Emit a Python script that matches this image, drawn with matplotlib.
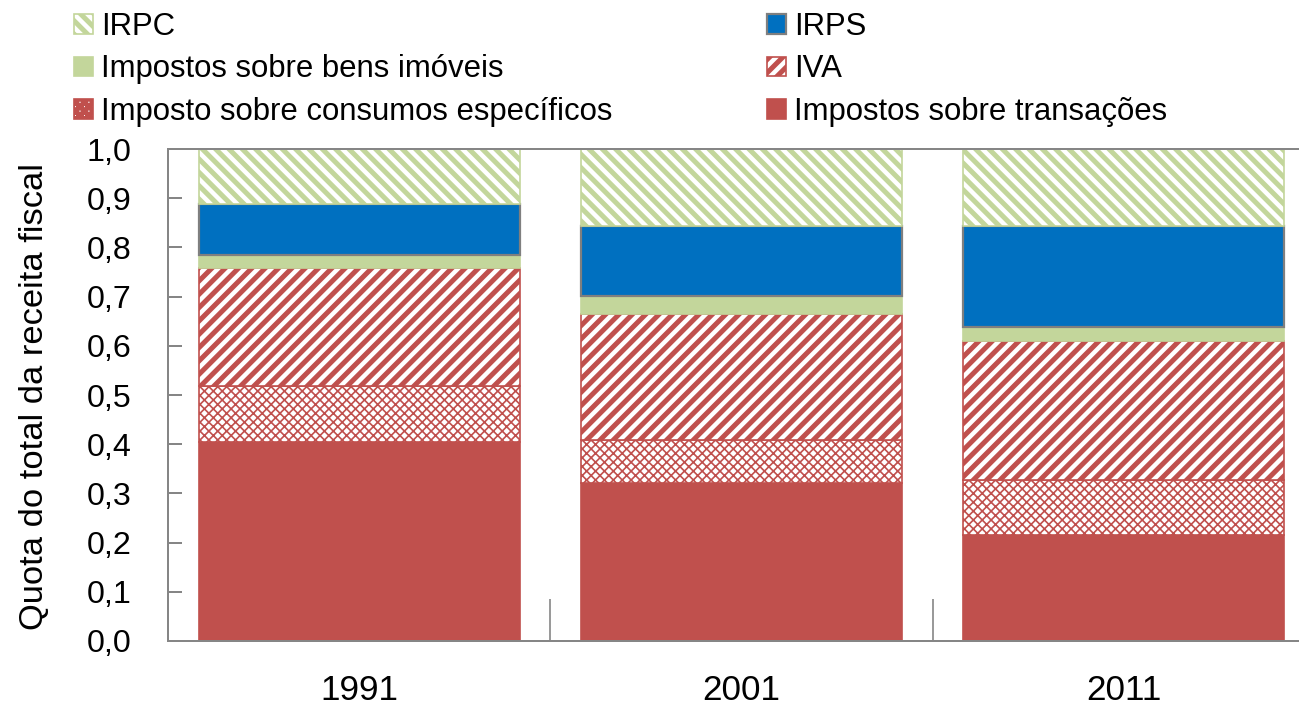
import numpy as np
import matplotlib
matplotlib.use("Agg")
import matplotlib.pyplot as plt
from matplotlib.ticker import FixedLocator, FuncFormatter

plt.rcParams['font.family'] = ['Liberation Sans Narrow', 'Liberation Sans', 'DejaVu Sans']
plt.rcParams['hatch.linewidth'] = 4.5

# --- data (share of total tax revenue) ---
years = ['1991', '2001', '2011']
transacoes = [0.404, 0.322, 0.216]
consumos = [0.114, 0.086, 0.111]
iva = [0.241, 0.257, 0.283]
bens_imoveis = [0.025, 0.037, 0.029]
irps = [0.104, 0.141, 0.204]
irpc = [0.112, 0.157, 0.157]

RED = '#c0504d'
GREEN = '#c3d69b'
BLUE = '#0070c0'
GRAY = '#868686'

DPI = 80
fig = plt.figure(figsize=(1299 / DPI, 713 / DPI), dpi=DPI)
ax = fig.add_axes([0.1293, 0.101, 0.883, 0.690])

x = np.arange(len(years))
w = 0.84

series = [
    ('Impostos sobre transações', transacoes, dict(color=RED, edgecolor=RED, linewidth=1.5)),
    ('Imposto sobre consumos específicos', consumos,
     dict(color='white', edgecolor=RED, hatch='xxx', linewidth=1.5)),
    ('IVA', iva, dict(color='white', edgecolor=RED, hatch='//', linewidth=1.5)),
    ('Impostos sobre bens imóveis', bens_imoveis, dict(color=GREEN, edgecolor=GREEN, linewidth=1.5)),
    ('IRPS', irps, dict(color=BLUE, edgecolor='#7f7f7f', linewidth=2)),
    ('IRPC', irpc, dict(color='white', edgecolor=GREEN, hatch='\\\\', linewidth=1.5)),
]

handles = {}
bottom = np.zeros(len(years))
for name, vals, style in series:
    lw_hatch = 1.5 if name.startswith('Imposto sobre consumos') else 4.5
    with plt.rc_context({'hatch.linewidth': lw_hatch}):
        bars = ax.bar(x, vals, w, bottom=bottom, label=name, zorder=2, **style)
        for b in bars:
            if hasattr(b, 'set_hatch_linewidth'):
                b.set_hatch_linewidth(lw_hatch)
    handles[name] = bars
    bottom += np.array(vals)

ax.set_xlim(-0.5, 2.5)
ax.set_ylim(0, 1.0)

ax.set_yticks(np.arange(0, 1.01, 0.1))
ax.yaxis.set_major_formatter(FuncFormatter(lambda v, p: f"{v:.1f}".replace('.', ',')))
ax.set_xticks(x)
ax.set_xticklabels(years)
# separators between categories
ax.xaxis.set_minor_locator(FixedLocator([0.5, 1.5]))

ax.tick_params(axis='y', direction='in', length=13, width=1.8, color=GRAY,
               labelsize=29, pad=33)
ax.tick_params(axis='x', which='major', length=0, labelsize=31.5, pad=30)
ax.tick_params(axis='x', which='minor', direction='in', length=38, width=1.5, color=GRAY)

for s in ax.spines.values():
    s.set_color(GRAY)
    s.set_linewidth(1.8)
    s.set_zorder(3)

fig.text(35 / 1299, 1 - 397 / 713, 'Quota do total da receita fiscal',
         rotation=90, ha='center', va='center', fontsize=31)

order = ['IRPC', 'Impostos sobre bens imóveis', 'Imposto sobre consumos específicos',
         'IRPS', 'IVA', 'Impostos sobre transações']
fig.legend([handles[k] for k in order], order, ncol=2, loc='upper left',
           bbox_to_anchor=(74 / 1299, 1 - 12 / 713), frameon=False, fontsize=28,
           handlelength=0.6, handleheight=0.6, handletextpad=0.27,
           labelspacing=0.4, columnspacing=4.98, borderpad=0, borderaxespad=0)

fig.savefig('out.png', dpi=DPI)
